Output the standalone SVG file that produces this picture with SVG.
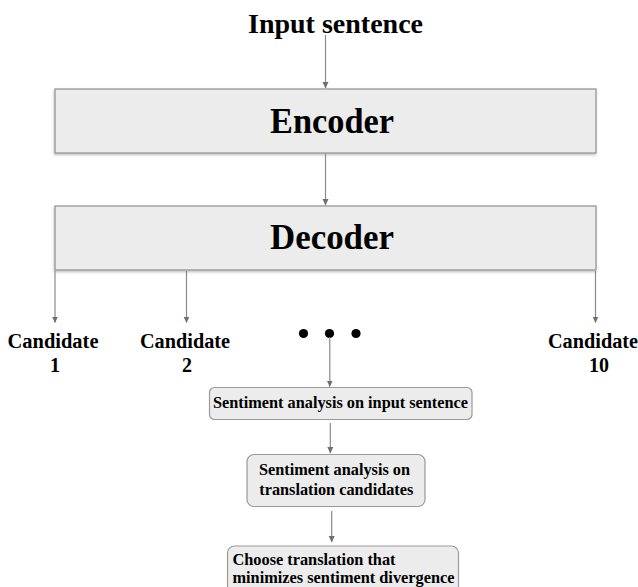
<svg xmlns="http://www.w3.org/2000/svg" width="638" height="587" viewBox="0 0 638 587">
<style>
  text { font-family: "Liberation Serif", "Times New Roman", serif; font-weight: bold; fill: #000; }
  .big { font-size: 36px; }
  .title { font-size: 28px; }
  .cand { font-size: 20px; text-anchor: middle; }
  .small { font-size: 16px; }
  .bigbox { fill: #ececec; stroke: #8f8f8f; stroke-width: 1.2; }
  .smallbox { fill: #ececec; stroke: #9a9a9a; stroke-width: 1.2; }
  .conn line { stroke: #8a8a8a; stroke-width: 1.2; fill: none; }
</style>
<defs>
  <marker id="arr" markerWidth="8" markerHeight="8" refX="6" refY="3.5" orient="auto" markerUnits="userSpaceOnUse">
    <path d="M0,0.5 L6.5,3.5 L0,6.5 Z" fill="#6f6f6f"/>
  </marker>
  <filter id="sh" x="-5%" y="-10%" width="110%" height="130%">
    <feDropShadow dx="-0.5" dy="1.5" stdDeviation="1" flood-color="#000" flood-opacity="0.25"/>
  </filter>
</defs>
<rect width="638" height="587" fill="#fff"/>

<g id="input">
  <text class="title" x="248" y="33" textLength="175" lengthAdjust="spacingAndGlyphs">Input sentence</text>
</g>

<g id="encoder">
  <rect class="bigbox" x="55" y="89" width="541" height="64" filter="url(#sh)"/>
  <text class="big" x="270" y="133" textLength="124" lengthAdjust="spacingAndGlyphs">Encoder</text>
</g>

<g id="decoder">
  <rect class="bigbox" x="55" y="206" width="541" height="64" filter="url(#sh)"/>
  <text class="big" x="270" y="249" textLength="124" lengthAdjust="spacingAndGlyphs">Decoder</text>
</g>

<g id="cand1">
  <text class="cand" x="53" y="348" textLength="91" lengthAdjust="spacingAndGlyphs">Candidate</text>
  <text class="cand" x="55" y="372">1</text>
</g>
<g id="cand2">
  <text class="cand" x="185" y="348" textLength="90" lengthAdjust="spacingAndGlyphs">Candidate</text>
  <text class="cand" x="187" y="372">2</text>
</g>
<g id="cand10">
  <text class="cand" x="593" y="348" textLength="90" lengthAdjust="spacingAndGlyphs">Candidate</text>
  <text class="cand" x="599" y="372">10</text>
</g>

<g id="dots">
  <circle cx="303.5" cy="333.5" r="4.6" fill="#000"/>
  <circle cx="329.5" cy="333.5" r="4.6" fill="#000"/>
  <circle cx="356" cy="333.5" r="4.6" fill="#000"/>
</g>

<g id="sa_input">
  <rect class="smallbox" x="209.5" y="387.5" width="262.5" height="32" rx="5"/>
  <text class="small" x="213" y="408.3" textLength="255" lengthAdjust="spacingAndGlyphs">Sentiment analysis on input sentence</text>
</g>

<g id="sa_cand">
  <rect class="smallbox" x="247" y="454.5" width="178" height="52" rx="7"/>
  <text class="small" x="259" y="475" textLength="151" lengthAdjust="spacingAndGlyphs">Sentiment analysis on</text>
  <text class="small" x="259.3" y="495" textLength="154" lengthAdjust="spacingAndGlyphs">translation candidates</text>
</g>

<g id="choose">
  <rect class="smallbox" x="227.5" y="546" width="231" height="60" rx="7"/>
  <text class="small" x="232.5" y="565" textLength="163" lengthAdjust="spacingAndGlyphs">Choose translation that</text>
  <text class="small" x="232.5" y="583.3" textLength="222" lengthAdjust="spacingAndGlyphs">minimizes sentiment divergence</text>
</g>

<g id="connectors" class="conn">
  <line x1="325.5" y1="35" x2="325.5" y2="88" marker-end="url(#arr)"/>
  <line x1="325.5" y1="154" x2="325.5" y2="205" marker-end="url(#arr)"/>
  <line x1="55" y1="271" x2="55" y2="322.5" marker-end="url(#arr)"/>
  <line x1="186.5" y1="271" x2="186.5" y2="322.5" marker-end="url(#arr)"/>
  <line x1="595.5" y1="271" x2="595.5" y2="322.5" marker-end="url(#arr)"/>
  <line x1="329.8" y1="337" x2="329.8" y2="386.5" marker-end="url(#arr)"/>
  <line x1="330.3" y1="423" x2="330.3" y2="453" marker-end="url(#arr)"/>
  <line x1="331.7" y1="511" x2="331.7" y2="542" marker-end="url(#arr)"/>
</g>
</svg>
